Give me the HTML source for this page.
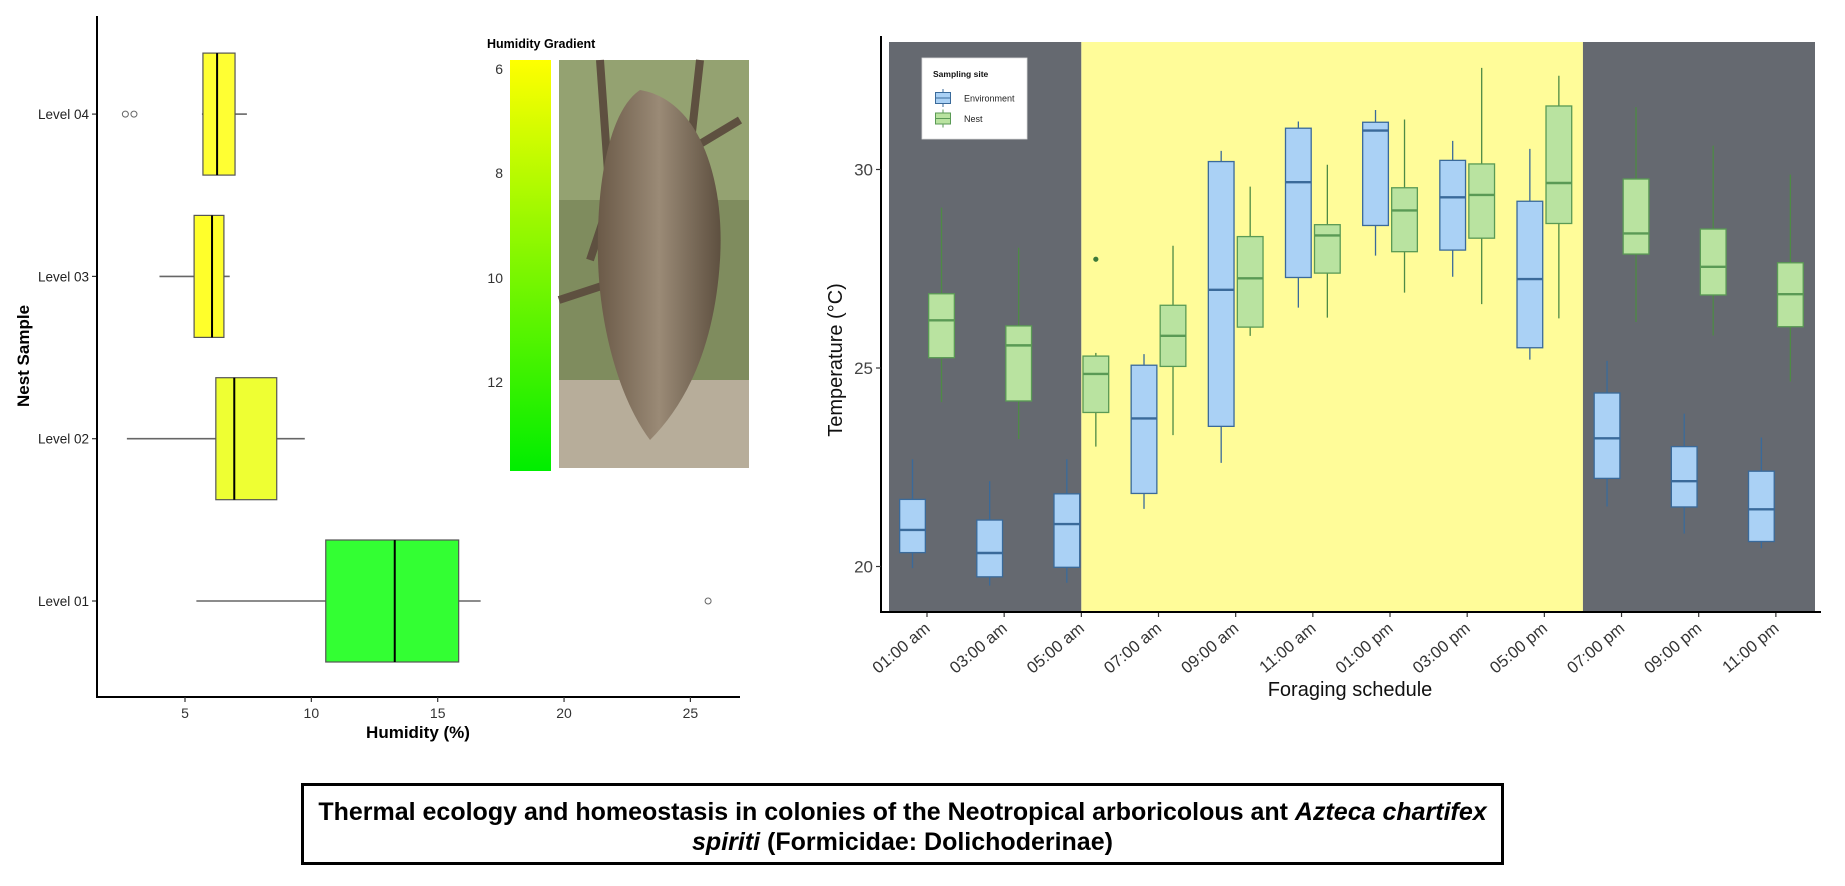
<!DOCTYPE html>
<html><head><meta charset="utf-8"><style>
html,body{margin:0;padding:0;background:#fff;}
svg{display:block;font-family:"Liberation Sans",sans-serif;}
#title-box{position:absolute;left:301px;top:783px;width:1197px;height:76px;border:3.5px solid #000;box-sizing:content-box;font-family:"Liberation Sans",sans-serif;font-weight:bold;font-size:25px;text-align:center;line-height:30px;white-space:nowrap;}
</style></head><body>
<div style="position:relative;width:1845px;height:886px;overflow:hidden;">
<svg id="chart" width="1845" height="886" viewBox="0 0 1845 886">
<defs>
<linearGradient id="hg" x1="0" y1="0" x2="0" y2="1"><stop offset="0" stop-color="#ffff00"/><stop offset="1" stop-color="#00ee00"/></linearGradient>
<linearGradient id="bark" x1="0" y1="0" x2="1" y2="0"><stop offset="0" stop-color="#6b5a48"/><stop offset="0.5" stop-color="#9a8a76"/><stop offset="1" stop-color="#5e5040"/></linearGradient>
</defs>
<g id="left"></g>
<g id="legend-grad">
<text x="487" y="48" font-size="12.5" font-weight="bold">Humidity Gradient</text>
<rect x="510" y="60" width="41" height="411" fill="url(#hg)"/>
<g font-size="14" fill="#333" text-anchor="end">
<text x="503" y="74">6</text>
<text x="503" y="178">8</text>
<text x="503" y="283">10</text>
<text x="503" y="387">12</text>
</g>
</g>
<g id="photo">
<rect x="559" y="60" width="190" height="408" fill="#7f8c5e"/>
<rect x="559" y="60" width="190" height="140" fill="#9aa876" opacity="0.8"/>
<rect x="559" y="380" width="190" height="88" fill="#b7ad9a"/>
<path d="M600 60 L610 200 L590 260 M700 60 L690 150 L740 120 M559 300 L620 280" stroke="#5e5040" stroke-width="8" fill="none"/>
<path d="M640 90 C700 100 725 180 720 260 C715 340 690 400 650 440 C620 400 600 330 598 260 C596 180 610 110 640 90 Z" fill="url(#bark)"/>
</g>
<g id="right"></g>
</svg>
<div id="title-box"><div style="margin-top:11px">Thermal ecology and homeostasis in colonies of the Neotropical arboricolous ant <i>Azteca chartifex</i><br><i>spiriti</i> (Formicidae: Dolichoderinae)</div></div>
</div>
<script>
// ---------- Left chart data ----------
const levels = ["Level 01","Level 02","Level 03","Level 04"];
const humMin = [5.45, 2.70, 3.99, 5.67];
const humQ1 = [10.57, 6.22, 5.36, 5.71];
const humMed = [13.3, 6.95, 6.07, 6.27];
const humQ3 = [15.83, 8.63, 6.54, 6.98];
const humMax = [16.7, 9.74, 6.77, 7.45];
const humOutliers = [[25.7], [], [], [2.64, 2.98]];
const humFills = ["#33ff33", "#eeff33", "#ffff2b", "#ffff33"];
const humTicks = [5, 10, 15, 20, 25];

// ---------- Right chart data ----------
const hours = ["01:00 am","03:00 am","05:00 am","07:00 am","09:00 am","11:00 am","01:00 pm","03:00 pm","05:00 pm","07:00 pm","09:00 pm","11:00 pm"];
const envMin = [19.96,19.52,19.59,21.45,22.61,26.52,27.83,27.30,25.21,21.51,20.83,20.46];
const envQ1  = [20.35,19.74,19.98,21.84,23.53,27.28,28.59,27.97,25.51,22.22,21.50,20.63];
const envMed = [20.92,20.34,21.07,23.73,26.97,29.68,30.98,29.30,27.24,23.23,22.15,21.44];
const envQ3  = [21.69,21.17,21.83,25.07,30.20,31.04,31.19,30.23,29.20,24.37,23.02,22.40];
const envMax = [22.70,22.15,22.70,25.35,30.47,31.21,31.50,30.72,30.52,25.18,23.85,23.25];
const nestMin = [24.14,23.21,23.02,23.31,25.81,26.27,26.90,26.61,26.25,26.16,25.82,24.66];
const nestQ1  = [25.26,24.17,23.88,25.04,26.03,27.39,27.93,28.27,28.64,27.87,26.84,26.04];
const nestMed = [26.20,25.57,24.85,25.81,27.26,28.34,28.97,29.36,29.66,28.39,27.55,26.86];
const nestQ3  = [26.87,26.06,25.30,26.58,28.31,28.61,29.54,30.14,31.60,29.76,28.50,27.65];
const nestMax = [29.04,28.03,25.38,28.08,29.57,30.12,31.26,32.56,32.36,31.57,30.60,29.87];
const nestOutliers = [[],[],[27.74],[],[],[],[],[],[],[],[],[]];
const tempTicks = [20, 25, 30];
const dayStart = 2, dayEnd = 8.5; // category-index bounds of daylight band

const NS = "http://www.w3.org/2000/svg";
function mk(parent, tag, attrs, text) {
  const e = document.createElementNS(NS, tag);
  for (const k in attrs) e.setAttribute(k, attrs[k]);
  if (text !== undefined) e.textContent = text;
  parent.appendChild(e);
  return e;
}

// ---------- Left chart ----------
(function(){
  const g = document.getElementById('left');
  const xS = v => 185 + (v - 5) * 25.27;
  const yS = i => 601 - i * 162.3;
  const hh = 61;
  for (let i = 0; i < levels.length; i++) {
    const y = yS(i);
    const wl = mk(g, 'line', {x1: xS(humMin[i]), x2: xS(humQ1[i]), y1: y, y2: y, stroke: '#666', 'stroke-width': 1.6});
    
    
    const wh = mk(g, 'line', {x1: xS(humQ3[i]), x2: xS(humMax[i]), y1: y, y2: y, stroke: '#666', 'stroke-width': 1.6});
    
    
    const b = mk(g, 'rect', {x: xS(humQ1[i]), y: y - hh, width: xS(humQ3[i]) - xS(humQ1[i]), height: 2 * hh, fill: humFills[i], stroke: '#555', 'stroke-width': 1.2});
    
    
    const m = mk(g, 'line', {x1: xS(humMed[i]), x2: xS(humMed[i]), y1: y - hh, y2: y + hh, stroke: '#000', 'stroke-width': 2});
    
    
    humOutliers[i].forEach(v => {
      const c = mk(g, 'circle', {cx: xS(v), cy: y, r: 3, fill: 'none', stroke: '#666', 'stroke-width': 1});
      
      
    });
    mk(g, 'line', {x1: 92, x2: 97, y1: y, y2: y, stroke: '#333', 'stroke-width': 1.2});
    const t = mk(g, 'text', {x: 89, y: y + 5, 'font-size': 13.5, fill: '#222', 'text-anchor': 'end'}, levels[i]);
    
    
  }
  const ax = mk(g, 'line', {x1: 97, x2: 97, y1: 16, y2: 698, stroke: '#000', 'stroke-width': 2});
  
  
  const axx = mk(g, 'line', {x1: 96, x2: 740, y1: 697, y2: 697, stroke: '#000', 'stroke-width': 2});
  
  
  humTicks.forEach(v => {
    mk(g, 'line', {x1: xS(v), x2: xS(v), y1: 697, y2: 702, stroke: '#333', 'stroke-width': 1.2});
    const t = mk(g, 'text', {x: xS(v), y: 718, 'font-size': 14, fill: '#333', 'text-anchor': 'middle'}, v);
    
    
  });
  const xt = mk(g, 'text', {x: 418, y: 738, 'font-size': 17, 'font-weight': 'bold', 'text-anchor': 'middle'}, 'Humidity (%)');
  
  
  const yt = mk(g, 'text', {x: 0, y: 0, 'font-size': 17, 'font-weight': 'bold', 'text-anchor': 'middle', transform: 'translate(29,356) rotate(-90)'}, 'Nest Sample');
  
  
})();

// ---------- Right chart ----------
(function(){
  const g = document.getElementById('right');
  const L = 889, R = 1815, T = 42, B = 612;
  const xC = i => 927 + i * 77.17;
  const yS = v => 566.5 - (v - 20) * 39.7;
  const bandX = i => 927 + i * 77.17;
  const n1 = mk(g, 'rect', {x: L, y: T, width: bandX(dayStart) - L, height: B - T, fill: '#656970'});
  
  
  const d = mk(g, 'rect', {x: bandX(dayStart), y: T, width: bandX(dayEnd) - bandX(dayStart), height: B - T, fill: '#fffc99'});
  
  
  const n2 = mk(g, 'rect', {x: bandX(dayEnd), y: T, width: R - bandX(dayEnd), height: B - T, fill: '#656970'});
  
  
  const bw = 25.7;
  function box(cx, mn, q1, md, q3, mx, fill, stroke, wcol, name) {
    const w = mk(g, 'line', {x1: cx, x2: cx, y1: yS(mx), y2: yS(mn), stroke: wcol, 'stroke-width': 1.3});
    
    
    const r = mk(g, 'rect', {x: cx - bw / 2, y: yS(q3), width: bw, height: yS(q1) - yS(q3), fill: fill, stroke: stroke, 'stroke-width': 1.3});
    
    
    const m = mk(g, 'line', {x1: cx - bw / 2, x2: cx + bw / 2, y1: yS(md), y2: yS(md), stroke: stroke, 'stroke-width': 2.4});
    
    
  }
  for (let i = 0; i < hours.length; i++) {
    box(xC(i) - 14.5, envMin[i], envQ1[i], envMed[i], envQ3[i], envMax[i], '#aad1f5', '#3a6a9a', '#3a6a9a', 'environment');
    box(xC(i) + 14.5, nestMin[i], nestQ1[i], nestMed[i], nestQ3[i], nestMax[i], '#b9e3a0', '#5a9a55', '#4e8a45', 'nest');
    nestOutliers[i].forEach(v => {
      const c = mk(g, 'circle', {cx: xC(i) + 14.5, cy: yS(v), r: 2.6, fill: '#3d7a3a'});
      
      
    });
    mk(g, 'line', {x1: xC(i), x2: xC(i), y1: B, y2: B + 5, stroke: '#333', 'stroke-width': 1.2});
    const t = mk(g, 'text', {x: 0, y: 0, 'font-size': 16.5, fill: '#333', 'text-anchor': 'end', transform: 'translate(' + (xC(i) + 4) + ',' + (B + 18) + ') rotate(-40)'}, hours[i]);
    
    
  }
  const ay = mk(g, 'line', {x1: 881, x2: 881, y1: 36, y2: 613, stroke: '#000', 'stroke-width': 2});
  
  
  const ax = mk(g, 'line', {x1: 880, x2: 1821, y1: 612, y2: 612, stroke: '#000', 'stroke-width': 2});
  
  
  tempTicks.forEach(v => {
    mk(g, 'line', {x1: 876, x2: 881, y1: yS(v), y2: yS(v), stroke: '#333', 'stroke-width': 1.2});
    const t = mk(g, 'text', {x: 873, y: yS(v) + 6, 'font-size': 17, fill: '#444', 'text-anchor': 'end'}, v);
    
    
  });
  const xt = mk(g, 'text', {x: 1350, y: 696, 'font-size': 20, fill: '#111', 'text-anchor': 'middle'}, 'Foraging schedule');
  
  
  const yt = mk(g, 'text', {x: 0, y: 0, 'font-size': 20, fill: '#111', 'text-anchor': 'middle', transform: 'translate(842,360) rotate(-90)'}, 'Temperature (°C)');
  
  
  // legend
  const lg = mk(g, 'g', {});
  
  
  mk(lg, 'rect', {x: 922, y: 58, width: 105, height: 81, fill: '#fff', stroke: '#ddd', 'stroke-width': 0.8});
  mk(lg, 'text', {x: 933, y: 77, 'font-size': 8.5, 'font-weight': 'bold', fill: '#111'}, 'Sampling site');
  const keys = [['Environment', '#aad1f5', '#3a6a9a', 98], ['Nest', '#b9e3a0', '#5a9a55', 118.5]];
  keys.forEach(k => {
    const e = mk(lg, 'g', {});
    
    
    mk(e, 'line', {x1: 943, x2: 943, y1: k[3] - 9, y2: k[3] + 9, stroke: k[2], 'stroke-width': 1});
    mk(e, 'rect', {x: 935.5, y: k[3] - 5.5, width: 15, height: 11, fill: k[1], stroke: k[2], 'stroke-width': 1});
    mk(e, 'line', {x1: 935.5, x2: 950.5, y1: k[3], y2: k[3], stroke: k[2], 'stroke-width': 1});
    mk(e, 'text', {x: 964, y: k[3] + 3.5, 'font-size': 9, fill: '#222'}, k[0]);
  });
})();
</script>
</body></html>
